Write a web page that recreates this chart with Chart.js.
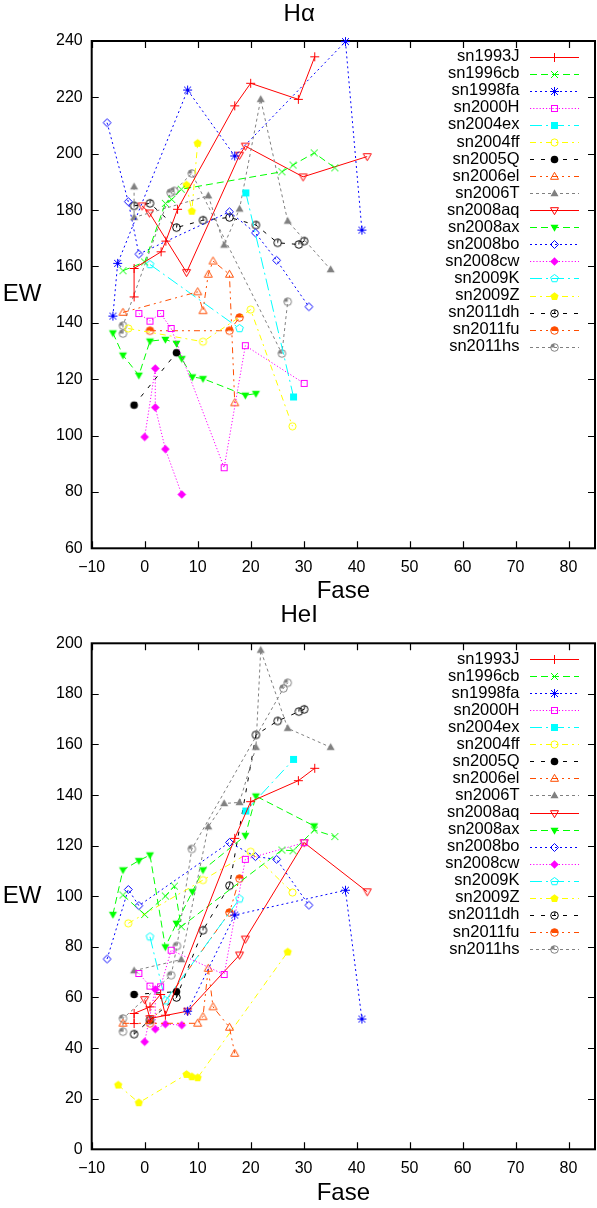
<!DOCTYPE html>
<html>
<head>
<meta charset="utf-8">
<script src="https://cdn.jsdelivr.net/npm/chart.js@4.4.1/dist/chart.umd.min.js"></script>
<style>
    html, body { margin: 0; padding: 0; background: #fff; overflow: hidden; width: 597px; height: 1208px; }
    canvas { position: absolute; left: 0; }
    #haChart { top: 0; }
    #heChart { top: 601px; }
</style>
</head>
<body>
<canvas id="haChart" width="600" height="606"></canvas>
<canvas id="heChart" width="600" height="607"></canvas>
<script>
// ========== DADOS (fase, EW) ==========
const snNames = ['sn1993J', 'sn1996cb', 'sn1998fa', 'sn2000H', 'sn2004ex', 'sn2004ff', 'sn2005Q', 'sn2006el', 'sn2006T',
    'sn2008aq', 'sn2008ax', 'sn2008bo', 'sn2008cw', 'sn2009K', 'sn2009Z', 'sn2011dh', 'sn2011fu', 'sn2011hs'];

// H alpha
const ha_sn1993J = [[-2, 149.2], [-2, 159.3], [3.1, 165.2], [4, 169], [6.2, 180.3], [17, 217], [20, 225], [29, 219.3], [32.1, 234.4]];
const ha_sn1996cb = [[-4.1, 158.5], [0, 161.6], [3.9, 182.4], [5.1, 183.8], [6.9, 187.4], [25.9, 193.6], [28, 196], [32, 200.3], [35.9, 195]];
const ha_sn1998fa = [[-6, 142.4], [-5.1, 161.1], [8.1, 222.6], [17, 199.2], [37.9, 239.8], [41, 172.9]];
const ha_sn2000H = [[-1.1, 143.3], [1, 140.6], [3, 143.3], [5, 138], [15, 88.6], [19, 131.9], [30.1, 118.5]];
const ha_sn2004ex = [[19.1, 186.1], [28.1, 113.7]];
const ha_sn2004ff = [[-3.1, 138], [11, 133.3], [20, 144.7], [27.9, 103.3]];
const ha_sn2005Q = [[-2, 110.8], [6, 129.4]];
const ha_sn2006el = [[-4.1, 143.7], [10, 151], [11, 144.3], [12, 157.2], [12.9, 161.9], [16, 157.2], [17, 111.6]];
const ha_sn2006T = [[-2, 188.3], [-2, 177.4], [12, 185.1], [15, 167.6], [17.9, 180.4], [21.9, 219.3], [27, 176.1], [35.1, 158.9]];
const ha_sn2008aq = [[-0.5, 181.5], [0.9, 179], [7.9, 157.9], [17.9, 199.5], [19, 202.7], [29.9, 191.8], [42, 199]];
const ha_sn2008ax = [[-6, 136.4], [-4.1, 128.5], [-1.1, 121.4], [1, 133.5], [3.9, 134.1], [6, 132.7], [7, 127.3], [9, 120.8], [11, 120.2], [19, 114.3], [21, 114.9]];
const ha_sn2008bo = [[-7.1, 211], [-3.1, 183], [-1.1, 164.4], [16, 179.4], [20.9, 171.9], [24.9, 162.2], [31, 145.7]];
const ha_sn2008cw = [[0, 99.5], [2, 123.8], [2, 110], [3.9, 95.2], [7, 79.1]];
const ha_sn2009K = [[1, 160.7], [17.9, 138]];
const ha_sn2009Z = [[7.9, 188.9], [8.9, 179.6], [10, 203.7]];
const ha_sn2011dh = [[-2, 181.5], [1, 182.4], [6, 173.8], [11, 176.4], [16, 177.4], [21, 174.7], [25.1, 168.4], [29.1, 167.8], [30.1, 169]];
const ha_sn2011fu = [[1, 137.2], [16, 137.2], [17.9, 141.9]];
const ha_sn2011hs = [[-4.1, 136.2], [-4.1, 139], [4.9, 186.2], [5.6, 186.8], [8.9, 193], [25.9, 129.1], [27, 147.5]];

// HeI
const he_sn1993J = [[-2, 49.7], [-2, 53.7], [1, 56.3], [3, 61.2], [3.9, 53], [17, 122.9], [20, 137.4], [29, 145.7], [32.1, 150.6]];
const he_sn1996cb = [[-4.1, 100.5], [0, 92.8], [3.9, 100.1], [5.6, 104], [6.9, 88], [25.9, 118.3], [28, 118], [32, 126.2], [35.9, 123.6]];
const he_sn1998fa = [[8.1, 54.6], [17, 92.6], [37.9, 102.4], [41, 51.5]];
const he_sn2000H = [[-1.1, 69.5], [1, 64.5], [3, 64.2], [5, 78.7], [15, 69.1], [19, 114.6], [30.1, 121.2]];
const he_sn2004ex = [[19.1, 133.7], [28.1, 154.1]];
const he_sn2004ff = [[-3.1, 89.3], [11, 106.4], [20, 117.6], [27.9, 101.5]];
const he_sn2005Q = [[-2, 61.2], [6, 62.3]];
const he_sn2006el = [[-4.1, 49.8], [10, 49.8], [11, 52.4], [12, 71.5], [12.9, 56.3], [16, 48.2], [17, 37.9]];
const he_sn2006T = [[-2, 70.6], [6.9, 75], [12, 127.5], [15, 136.7], [17.9, 137.1], [21, 158.9], [21.9, 197.3], [27, 166.4], [35.1, 158.9]];
const he_sn2008aq = [[0, 59.2], [1, 51.7], [8.1, 54.6], [17.9, 76.8], [19, 83.1], [30.1, 121.2], [42, 101.8]];
const he_sn2008ax = [[-6, 92.8], [-4.1, 110.4], [-1.1, 114.1], [1, 116.3], [3.9, 80], [6, 89.3], [9, 101.8], [11, 110.4], [19, 124], [21, 139.6], [32, 127.8]];
const he_sn2008bo = [[-7.1, 75.2], [-3.1, 102.7], [-1.1, 96.3], [16, 121.3], [20.9, 115.7], [24.9, 114.6], [31, 96.5]];
const he_sn2008cw = [[0, 42.5], [2, 63.2], [2, 47.5], [3.9, 49.5], [7, 49.1]];
const he_sn2009K = [[1, 84], [3.9, 58.7], [17.9, 99]];
const he_sn2009Z = [[-5, 25.4], [-1.1, 18.4], [7.9, 29.6], [8.9, 28.7], [10, 28.3], [27, 78]];
const he_sn2011dh = [[-2, 45.5], [1, 51.1], [6, 60], [11, 86.6], [16, 104.2], [21, 163.8], [25.1, 169.3], [29.1, 173], [30.1, 173.9]];
const he_sn2011fu = [[1, 49.8], [16, 93.6], [17.9, 107]];
const he_sn2011hs = [[-4.1, 46.5], [-4.1, 51.7], [5, 68.8], [6.1, 80.4], [8.9, 118.7], [26.2, 182.2], [27, 184.4]];

const haSeries = [ha_sn1993J, ha_sn1996cb, ha_sn1998fa, ha_sn2000H, ha_sn2004ex, ha_sn2004ff, ha_sn2005Q, ha_sn2006el, ha_sn2006T,
    ha_sn2008aq, ha_sn2008ax, ha_sn2008bo, ha_sn2008cw, ha_sn2009K, ha_sn2009Z, ha_sn2011dh, ha_sn2011fu, ha_sn2011hs];
const heSeries = [he_sn1993J, he_sn1996cb, he_sn1998fa, he_sn2000H, he_sn2004ex, he_sn2004ff, he_sn2005Q, he_sn2006el, he_sn2006T,
    he_sn2008aq, he_sn2008ax, he_sn2008bo, he_sn2008cw, he_sn2009K, he_sn2009Z, he_sn2011dh, he_sn2011fu, he_sn2011hs];

// ========== ESTILO (cores e tracejados estilo gnuplot) ==========
const FONT = "'Liberation Sans', Arial, Helvetica, sans-serif";
const LT_COLORS = ['#ff0000', '#00ff00', '#0000ff', '#ff00ff', '#00ffff', '#ffff00', '#000000', '#ff4d00', '#808080'];
const LT_DASHES = [[], [7, 4], [2, 3], [1.2, 2], [12, 4, 2, 4], [6, 4, 2, 4], [4, 7], [6, 4, 2, 4, 2, 4], [3, 3]];
const MARKERS = ['plus', 'cross', 'star', 'square', 'squareF', 'circle', 'circleF', 'tri', 'triF',
    'itri', 'itriF', 'diamond', 'diamondF', 'pent', 'pentF', 'clock', 'halfTop', 'quarter'];

// desenha o marcador num canvas pequeno e usa como pointStyle
function makeMarker(kind, color) {
    const S = 13, c = 6.5;
    const cv = document.createElement('canvas');
    cv.width = S; cv.height = S;
    const g = cv.getContext('2d');
    g.strokeStyle = color;
    g.fillStyle = color;
    g.lineWidth = 1;
    const poly = (pts, fill) => {
        g.beginPath();
        pts.forEach(([a, b], i) => i ? g.lineTo(c + a, c + b) : g.moveTo(c + a, c + b));
        g.closePath();
        fill ? g.fill() : g.stroke();
    };
    const ring = (r) => { g.beginPath(); g.arc(c, c, r, 0, Math.PI * 2); g.stroke(); };
    const pent = (r) => {
        const p = [];
        for (let k = 0; k < 5; k++) {
            const a = -Math.PI / 2 + k * 2 * Math.PI / 5;
            p.push([r * Math.cos(a), r * Math.sin(a)]);
        }
        return p;
    };
    switch (kind) {
        case 'plus':
        case 'star':
            g.beginPath();
            g.moveTo(c - 4.5, c); g.lineTo(c + 4.5, c);
            g.moveTo(c, c - 4.5); g.lineTo(c, c + 4.5);
            g.stroke();
            if (kind === 'plus') break;
        // fall through
        case 'cross':
            g.beginPath();
            g.moveTo(c - 3.5, c - 3.5); g.lineTo(c + 3.5, c + 3.5);
            g.moveTo(c - 3.5, c + 3.5); g.lineTo(c + 3.5, c - 3.5);
            g.stroke();
            break;
        case 'square': g.strokeRect(c - 3, c - 3, 6, 6); break;
        case 'squareF': g.fillRect(c - 3.5, c - 3.5, 7, 7); break;
        case 'circle': ring(3.6); break;
        case 'circleF': g.beginPath(); g.arc(c, c, 3.8, 0, Math.PI * 2); g.fill(); break;
        case 'tri': poly([[0, -4.2], [4, 2.8], [-4, 2.8]], false); break;
        case 'triF': poly([[0, -4.2], [4, 2.8], [-4, 2.8]], true); break;
        case 'itri': poly([[0, 4.2], [4, -2.8], [-4, -2.8]], false); break;
        case 'itriF': poly([[0, 4.2], [4, -2.8], [-4, -2.8]], true); break;
        case 'diamond': poly([[0, -4], [4, 0], [0, 4], [-4, 0]], false); break;
        case 'diamondF': poly([[0, -4.3], [4.3, 0], [0, 4.3], [-4.3, 0]], true); break;
        case 'pent': poly(pent(4), false); break;
        case 'pentF': poly(pent(4.3), true); break;
        case 'clock':
            ring(3.8);
            g.beginPath(); g.moveTo(c, c); g.lineTo(c + 0.6, c - 3.8); g.stroke();
            break;
        case 'halfTop':
            ring(3.8);
            g.beginPath(); g.moveTo(c, c); g.arc(c, c, 3.8, Math.PI, Math.PI * 2); g.closePath(); g.fill();
            break;
        case 'quarter':
            ring(3.8);
            g.beginPath(); g.moveTo(c, c); g.arc(c, c, 3.8, Math.PI, Math.PI * 1.5); g.closePath(); g.fill();
            break;
    }
    return cv;
}

// moldura com ticks para dentro (como no gnuplot) + legenda + rótulo EW
const gnuplotDecor = {
    id: 'gnuplotDecor',
    beforeDatasetsDraw(chart) {
        const { ctx, chartArea: a, scales } = chart;
        const TL = 7;
        ctx.save();
        ctx.strokeStyle = '#000';
        ctx.lineWidth = 1.2;
        ctx.beginPath();
        scales.x.ticks.forEach(t => {
            const px = Math.round(scales.x.getPixelForValue(t.value)) + 0.5;
            ctx.moveTo(px, a.bottom); ctx.lineTo(px, a.bottom - TL);
            ctx.moveTo(px, a.top); ctx.lineTo(px, a.top + TL);
        });
        scales.y.ticks.forEach(t => {
            const py = Math.round(scales.y.getPixelForValue(t.value)) + 0.5;
            ctx.moveTo(a.left, py); ctx.lineTo(a.left + TL, py);
            ctx.moveTo(a.right, py); ctx.lineTo(a.right - TL, py);
        });
        ctx.stroke();
        ctx.lineWidth = 2;
        ctx.strokeRect(a.left, a.top, a.right - a.left, a.bottom - a.top);

        // EW na horizontal
        ctx.fillStyle = '#000';
        ctx.font = '24px ' + FONT;
        ctx.textAlign = 'center';
        ctx.textBaseline = 'middle';
        ctx.fillText('EW', 22, (a.top + a.bottom) / 2);
        ctx.restore();
    },
    afterDatasetsDraw(chart) {
        const { ctx, chartArea: a } = chart;
        ctx.save();
        ctx.font = '16.5px ' + FONT;
        ctx.textAlign = 'right';
        ctx.textBaseline = 'middle';
        chart.data.datasets.forEach((ds, i) => {
            const y = a.top + 15.7 + i * 17.06;
            ctx.fillStyle = '#000';
            ctx.fillText(ds.label, 519.5, y);
            ctx.strokeStyle = ds.borderColor;
            ctx.lineWidth = 1;
            ctx.setLineDash(ds.borderDash);
            ctx.beginPath();
            ctx.moveTo(530, Math.round(y) + 0.5);
            ctx.lineTo(579, Math.round(y) + 0.5);
            ctx.stroke();
            ctx.setLineDash([]);
            const m = ds.pointStyle;
            ctx.drawImage(m, Math.round(554.5 - m.width / 2), Math.round(y + 0.5 - m.height / 2));
        });
        ctx.restore();
    }
};

function createChart(canvasId, titleText, series, yMin, yMax, titlePadBottom, canvasHeight) {
    const ctx = document.getElementById(canvasId);
    const areaBottom = 548.3;

    const datasets = snNames.map((name, i) => {
        const color = LT_COLORS[i % 9];
        return {
            label: name,
            data: series[i].map(p => ({ x: p[0], y: p[1] })),
            showLine: true,
            borderColor: color,
            borderWidth: 1,
            borderDash: LT_DASHES[i % 9],
            pointStyle: makeMarker(MARKERS[i], color),
            pointRadius: 4,
            tension: 0,
            clip: false
        };
    });

    return new Chart(ctx, {
        type: 'scatter',
        data: { datasets },
        options: {
            responsive: false,
            animation: false,
            devicePixelRatio: 1,
            layout: { padding: { top: 0, left: 0, right: 1.7, bottom: 0 } },
            plugins: {
                legend: { display: false },
                tooltip: { enabled: false },
                title: {
                    display: true,
                    text: titleText,
                    color: '#000',
                    font: { family: FONT, size: 24, weight: 'normal' },
                    padding: { top: 0, bottom: titlePadBottom }
                }
            },
            scales: {
                x: {
                    type: 'linear',
                    min: -10,
                    max: 85,
                    grid: { display: false, drawTicks: false },
                    border: { display: false },
                    ticks: {
                        stepSize: 10,
                        includeBounds: false,
                        padding: 10,
                        color: '#000',
                        font: { family: FONT, size: 16 },
                        callback: v => v < 0 ? '\u2212' + Math.abs(v) : String(v)
                    },
                    title: {
                        display: true,
                        text: 'Fase',
                        color: '#000',
                        font: { family: FONT, size: 24 },
                        padding: 0
                    },
                    afterFit: s => { s.height = canvasHeight - areaBottom; }
                },
                y: {
                    type: 'linear',
                    min: yMin,
                    max: yMax,
                    grid: { display: false, drawTicks: false },
                    border: { display: false },
                    ticks: {
                        stepSize: 20,
                        padding: 9,
                        color: '#000',
                        font: { family: FONT, size: 16 }
                    },
                    afterFit: s => { s.width = 91.7; }
                }
            }
        },
        plugins: [gnuplotDecor]
    });
}

document.addEventListener('DOMContentLoaded', function () {
    if (typeof Chart === 'undefined') {
        console.error('Chart.js não foi carregado');
        return;
    }
    createChart('haChart', 'H\u03b1', haSeries, 60, 240, 12.2, 606);
    createChart('heChart', 'HeI', heSeries, 0, 200, 13.5, 607);
});
</script>
</body>
</html>
